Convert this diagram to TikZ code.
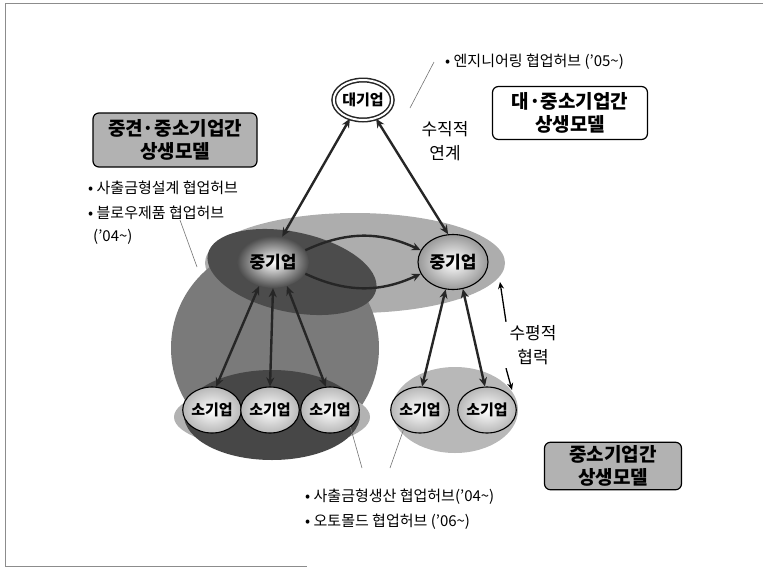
\documentclass[tikz,border=0pt]{standalone}
\usepackage{fontspec}
\setmainfont{Noto Sans CJK KR}
\usetikzlibrary{arrows.meta,shapes.geometric}

\tikzset{
  firm/.style={ellipse, draw=black, line width=1.1pt, inner sep=0pt,
    minimum width=56pt, minimum height=46pt, inner color=white, outer color=black!28,
    font=\fontsize{15}{15}\selectfont\bfseries},
  link/.style={line width=2.4pt, black!85, {Stealth[length=9pt,width=8pt]}-{Stealth[length=9pt,width=8pt]}},
  oneway/.style={line width=2.4pt, black!85, -{Stealth[length=9pt,width=8pt]}},
  hint/.style={line width=1.3pt, black, -{Stealth[length=7pt,width=6pt]}},
  leader/.style={line width=0.6pt, black!55},
  model/.style={rounded corners=6pt, draw=black, line width=1.2pt, align=center,
    font=\fontsize{19}{23}\selectfont\bfseries},
  bullet/.style={anchor=west, inner sep=0pt, font=\fontsize{15}{15}\selectfont}
}

\begin{document}
\begin{tikzpicture}[x=1pt, y=-1pt]
  \useasboundingbox (0,0) rectangle (763,568);
  % frame
  \draw[black!45, line width=0.7pt] (763,3) -- (5,3) -- (5,566) -- (307,566);

  % shaded regions
  \fill[black!32] (355,263) ellipse [x radius=150, y radius=50];
  \fill[black!52] (275,348) circle [radius=104];
  \fill[black!70, rotate around={-12:(292,272)}] (292,272) ellipse [x radius=86, y radius=40];
  \fill[black!30] (272,417) ellipse [x radius=98, y radius=32];
  \fill[black!72] (272,415) ellipse [x radius=88, y radius=45];
  \fill[black!28] (455,410) ellipse [x radius=63, y radius=43];

  % firms
  \node[ellipse, draw=black!85, double=white, double distance=2pt, line width=1.5pt,
    fill=white, minimum width=58pt, minimum height=40pt, inner sep=0pt,
    font=\fontsize{15}{15}\selectfont\bfseries] (big) at (363,100) {대기업};
  \node[ellipse, minimum width=72pt, minimum height=52pt, inner sep=0pt,
    inner color=white, outer color=black!70,
    font=\fontsize{17}{17}\selectfont\bfseries] (mid1) at (273,262) {중기업};
  \node[firm, minimum width=70pt, minimum height=55pt, outer color=black!40,
    font=\fontsize{17}{17}\selectfont\bfseries] (mid2) at (453,262) {중기업};
  \foreach \x [count=\i] in {212,270,330,420,487}
    \node[firm] (small\i) at (\x,410) {소기업};

  % connectors
  \draw[link] (mid1.70) -- (big.235);
  \draw[link] (mid2.100) -- (big.-55);
  \draw[oneway] (mid1.20) to[bend left=25] (mid2.160);
  \draw[oneway] (mid1.-20) to[bend right=25] (mid2.200);
  \draw[link] (mid1.240) -- (small1.80);
  \draw[link] (mid1.270) -- (small2.90);
  \draw[link] (mid1.300) -- (small3.100);
  \draw[link] (mid2.255) -- (small4.85);
  \draw[link] (mid2.290) -- (small5.95);

  % labels
  \node[bullet] (eng) at (445,62) {• 엔지니어링 협업허브 ('05\textasciitilde)};
  \node[model, fill=white, minimum width=155pt, minimum height=53pt] (bigmodel) at (570,113) {대·중소기업간\\상생모델};
  \node[align=center, font=\fontsize{17}{24}\selectfont] (vert) at (445,141) {수직적\\연계};
  \node[model, fill=black!30, minimum width=164pt, minimum height=54pt] (midmodel) at (175,140) {중견·중소기업간\\상생모델};
  \node[bullet] (design) at (88,188) {• 사출금형설계 협업허브};
  \node[bullet] (blow) at (88,213) {• 블로우제품 협업허브};
  \node[bullet] (blowyear) at (93,237) {('04\textasciitilde)};
  \node[align=center, font=\fontsize{17}{24}\selectfont] (horiz) at (533,345) {수평적\\협력};
  \node[bullet] (inject) at (305,497) {• 사출금형생산 협업허브('04\textasciitilde)};
  \node[bullet] (mold) at (305,522) {• 오토몰드 협업허브 ('06\textasciitilde)};
  \node[model, fill=black!30, minimum width=137pt, minimum height=47pt] (smallmodel) at (613,466) {중소기업간\\상생모델};

  % leaders and hints
  \coordinate (engend) at (410,108);
  \coordinate (blowend) at (197,267);
  \coordinate (injA) at (362,468);
  \coordinate (injB) at (390,468);
  \coordinate (hzup) at (500,282);
  \coordinate (hzdown) at (512,390);
  \draw[leader] ([xshift=-11pt]eng.west) -- (engend);
  \draw[leader] ([xshift=92pt]blow.south west) -- (blowend);
  \draw[leader] (injA) -- (small3.-40);
  \draw[leader] (injB) -- (small4.230);
  \draw[hint] (horiz.north west) -- (hzup);
  \draw[hint] (horiz.south west) -- (hzdown);
\end{tikzpicture}
\end{document}
